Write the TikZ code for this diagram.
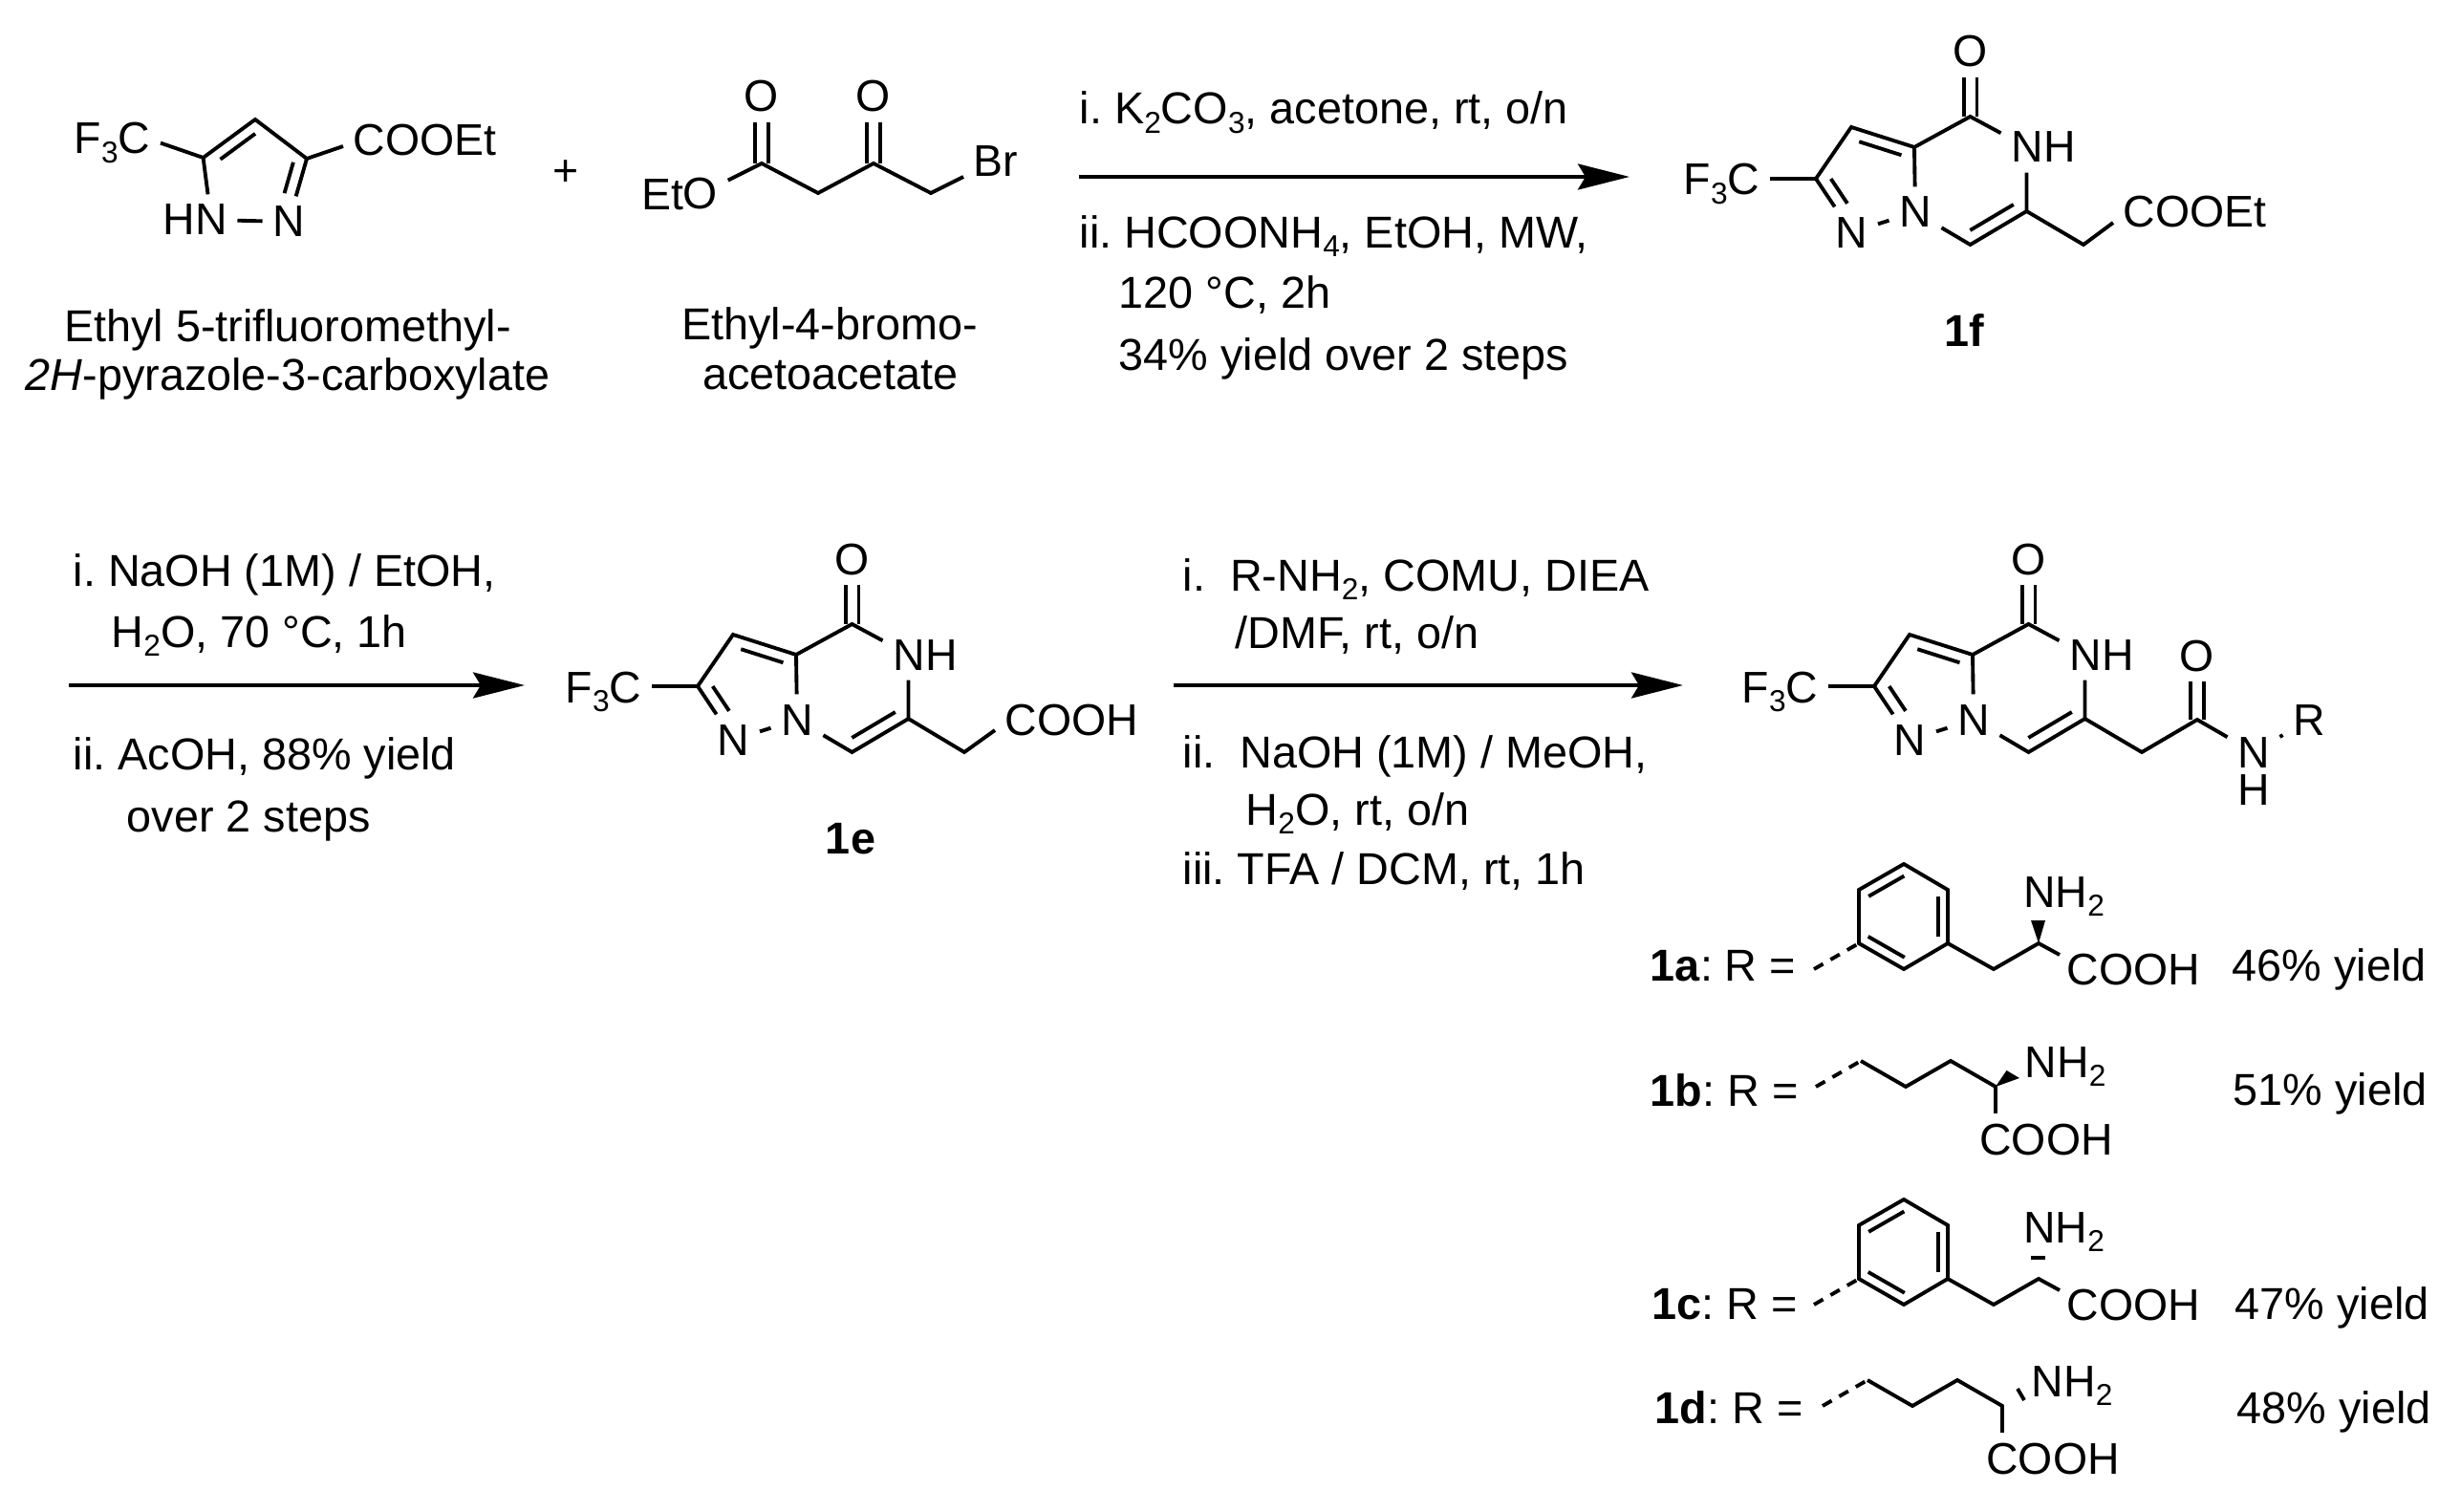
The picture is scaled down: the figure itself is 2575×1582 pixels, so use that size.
\documentclass[tikz,border=0pt]{standalone}
\usepackage{fontspec}
\setmainfont{Liberation Sans}
\frenchspacing
\usetikzlibrary{arrows.meta,calc}

\newcommand{\low}[1]{\raisebox{-0.2em}{\fontsize{9}{10}\selectfont #1}}
\newcommand{\innerbond}[5]{\draw[bond] ($(#1)!#4!(#2)!#3!90:(#2)$) -- ($(#1)!#5!(#2)!#3!-90:(#1)$);}

\tikzset{
  bond/.style={line width=1.1pt},
  dbond/.style={bond, double, double distance=0.1cm},
  dashbond/.style={bond, dash pattern=on 0.11cm off 0.09cm},
  rarrow/.style={-{Stealth[length=0.54cm, width=0.27cm, inset=0.08cm]}, line width=1.05pt},
  atom/.style={inner sep=0.1cm, font=\fontsize{13.2}{16}\selectfont},
  plain/.style={inner sep=0pt, font=\fontsize{13.2}{16}\selectfont},
  txt/.style={inner sep=0pt, anchor=base west, font=\fontsize{13.3}{16}\selectfont},
  ctxt/.style={txt, anchor=base}
}

% bicyclic core, drawn at the place it has in 1e
\newcommand{\pyrcore}{
  \coordinate (c2) at (730,718);
  \coordinate (c3) at (767,664);
  \coordinate (c3a) at (833,685);
  \coordinate (c4) at (891.5,653);
  \coordinate (c6) at (950.5,752);
  \coordinate (c7) at (891.5,787);
  \node[atom, anchor=base east] (cf3) at (682,735) {F\low{3}C};
  \node[atom, anchor=base] (o4) at (891.5,601) {O};
  \node[atom, anchor=base] (n5) at (951,701) {N};
  \node[plain, anchor=base west] (h5) at (968,701) {H};
  \node[atom, anchor=base] (n8) at (834,769) {N};
  \node[atom, anchor=base] (n1) at (767.5,790) {N};
  \draw[dbond] (c4) -- (o4);
  \draw[bond] (c2 -| cf3.east) -- (c2) -- (c3) -- (c3a) -- (c4) -- (n5);
  \draw[bond] (c2) -- (n1);
  \draw[bond] (c3a) -- (n8);
  \draw[bond] (n8) -- (c7) -- (c6) -- (c6 |- n5.south);
  \draw[bond] (n1) -- (n8);
  \innerbond{c2}{n1}{0.13cm}{0.13}{0.59}
  \innerbond{c3a}{c3}{0.12cm}{0.15}{0.82}
  \innerbond{c7}{c6}{0.13cm}{0.11}{0.88}
}

% phenyl side chain of 1a
\newcommand{\phside}{
  \coordinate (r0) at (1898,1014);
  \coordinate (r1) at (1945,987);
  \coordinate (r2) at (1945,931);
  \coordinate (r3) at (1992,904);
  \coordinate (r4) at (2038,931);
  \coordinate (r5) at (2038,987);
  \coordinate (r6) at (1992,1014);
  \coordinate (ch2) at (2086,1014);
  \coordinate (ch) at (2133,987);
  \coordinate (cend) at (2155,999);
  \node[plain, anchor=base west] (nh2) at (2116.5,949) {NH\low{2}};
  \node[plain, anchor=base west] (cooh) at (2162,1030) {COOH};
  \draw[dashbond] (r0) -- (r1);
  \draw[bond] (r1) -- (r2) -- (r3) -- (r4) -- (r5) -- (r6) -- cycle;
  \draw[bond] (r5) -- (ch2) -- (ch) -- (cend);
  \innerbond{r3}{r2}{0.11cm}{0.11}{0.9}
  \innerbond{r5}{r4}{0.1cm}{0.12}{0.88}
  \innerbond{r1}{r6}{0.11cm}{0.09}{0.9}
}

% open chain of 1b
\newcommand{\chainside}{
  \coordinate (z0) at (1900,1137);
  \coordinate (z1) at (1947,1110);
  \coordinate (z2) at (1994,1137);
  \coordinate (z3) at (2041,1110);
  \coordinate (z4) at (2088,1137);
  \node[plain, anchor=base west] (nh2) at (2118,1127) {NH\low{2}};
  \node[atom, anchor=base] (cooh) at (2141,1208) {COOH};
  \draw[dashbond] (z0) -- (z1);
  \draw[bond] (z1) -- (z2) -- (z3) -- (z4) -- (z4 |- cooh.north);
}

\begin{document}
\begin{tikzpicture}[x=0.01cm, y=-0.01cm]
  \useasboundingbox (0,0) rectangle (2575,1582);

  % Pyrazole
  \coordinate (pc5) at (212.6,165);
  \coordinate (pc4) at (267,125);
  \coordinate (pc3) at (321,166);
  \node[atom, anchor=base east] (pcf3) at (168,161) {F\low{3}C};
  \node[atom, anchor=base west] (pester) at (359,163) {COOEt};
  \node[atom, anchor=base] (pn1) at (221,246) {N};
  \node[plain, anchor=base east] (ph1) at (205,246) {H};
  \node[atom, anchor=base] (pn2) at (302,248) {N};
  \draw[bond] (pcf3.east) -- (pc5) -- (pc4) -- (pc3) -- ([yshift=-0.06cm]pester.west);
  \draw[bond] (pc5) -- (pn1);
  \draw[bond] (pc3) -- (pn2);
  \draw[bond] (pn1) -- (pn2);
  \innerbond{pn2}{pc3}{0.125cm}{0.4}{0.89}
  \innerbond{pc4}{pc5}{0.12cm}{0.13}{0.8}
  \node[ctxt] (pname1) at (301,357) {Ethyl 5-trifluoromethyl-};
  \node[ctxt] (pname2) at (301,408) {\textit{2H}-pyrazole-3-carboxylate};

  \node[atom] (plus) at (592,181) {+};

  % Bromo ester
  \coordinate (bc1) at (797,171);
  \coordinate (bc2) at (856,202);
  \coordinate (bc3) at (914,171);
  \coordinate (bc4) at (974,202);
  \node[atom, anchor=base] (bo1) at (797,117) {O};
  \node[atom, anchor=base] (bo3) at (914,117) {O};
  \node[atom] (bo) at (733,203) {O};
  \node[plain, anchor=base east] (bet) at (716,220) {Et};
  \node[atom, anchor=base west] (bbr) at (1008,185) {Br};
  \draw[dbond] (bc1) -- (bo1);
  \draw[dbond] (bc3) -- (bo3);
  \draw[bond] (bo) -- (bc1) -- (bc2) -- (bc3) -- (bc4) -- (bbr.base west);
  \node[ctxt] (bname1) at (868,355) {Ethyl-4-bromo-};
  \node[ctxt] (bname2) at (869,407) {acetoacetate};

  % First arrow
  \coordinate (a1s) at (1129,185);
  \coordinate (a1e) at (1705,185);
  \draw[rarrow] (a1s) -- (a1e);
  \node[txt] (t11) at (1129,130) {i. K\low{2}CO\low{3}, acetone, rt, o/n};
  \node[txt] (t12) at (1129,259) {ii. HCOONH\low{4}, EtOH, MW,};
  \node[txt] (t13) at (1170,323) {120 °C, 2h};
  \node[txt] (t14) at (1170,387) {34\% yield over 2 steps};

  % 1f
  \begin{scope}[shift={(1170,-531)}, name prefix=f-]
    \pyrcore
    \coordinate (ch2) at (1010,787);
    \node[atom, anchor=base west] (ester) at (1041,769) {COOEt};
    \draw[bond] (c6) -- (ch2) -- ([yshift=-0.11cm]ester.west);
  \end{scope}
  \node[ctxt] (lf) at (2055,363) {\textbf{1f}};

  % Second arrow
  \coordinate (a2s) at (72,717);
  \coordinate (a2e) at (549,717);
  \draw[rarrow] (a2s) -- (a2e);
  \node[txt] (t21) at (76,613) {i. NaOH (1M) / EtOH,};
  \node[txt] (t22) at (116,677) {H\low{2}O, 70 °C, 1h};
  \node[txt] (t23) at (76,805) {ii. AcOH, 88\% yield};
  \node[txt] (t24) at (132,870) {over 2 steps};

  % 1e
  \begin{scope}[name prefix=e-]
    \pyrcore
    \coordinate (ch2) at (1009,787);
    \node[atom, anchor=base west] (acid) at (1041,769) {COOH};
    \draw[bond] (c6) -- (ch2) -- ([yshift=-0.11cm]acid.west);
  \end{scope}
  \node[ctxt] (le) at (890,893) {\textbf{1e}};

  % Third arrow
  \coordinate (a3s) at (1228,717);
  \coordinate (a3e) at (1761,717);
  \draw[rarrow] (a3s) -- (a3e);
  \node[txt] (t31) at (1237,618) {i.\ \ R-NH\low{2}, COMU, DIEA};
  \node[txt] (t32) at (1292,678) {/DMF, rt, o/n};
  \node[txt] (t33) at (1237,803) {ii.\ \ NaOH (1M) / MeOH,};
  \node[txt] (t34) at (1303,863) {H\low{2}O, rt, o/n};
  \node[txt] (t35) at (1237,925) {iii. TFA / DCM, rt, 1h};

  % Products
  \begin{scope}[shift={(1231,0)}, name prefix=g-]
    \pyrcore
  \end{scope}
  \coordinate (gch2) at (2241,787);
  \coordinate (gc8) at (2299,753);
  \node[atom, anchor=base] (go8) at (2299,702) {O};
  \node[atom, anchor=base, inner ysep=0.02cm] (gn9) at (2358,803) {N};
  \node[plain, anchor=base] (gh9) at (2358,842) {H};
  \node[atom, anchor=base] (gr) at (2416,769) {R};
  \draw[dbond] (gc8) -- (go8);
  \draw[bond] (g-c6) -- (gch2) -- (gc8) -- (gn9);
  \draw[bond] (gn9) -- (gr);

  % 1a
  \begin{scope}[name prefix=a-]
    \phside
    \coordinate (wl) at (2125,963);
    \coordinate (wr) at (2140,963);
    \fill (ch) -- (wl) -- (wr) -- cycle;
  \end{scope}
  \node[txt] (la) at (1726,1026) {\textbf{1a}: R =};
  \node[txt] (ya) at (2335,1026) {46\% yield};

  % 1b
  \begin{scope}[name prefix=b-]
    \chainside
    \coordinate (wl) at (2099.5,1120);
    \coordinate (wr) at (2113,1128);
    \fill (z4) -- (wl) -- (wr) -- cycle;
  \end{scope}
  \node[txt] (lb) at (1726,1157) {\textbf{1b}: R =};
  \node[txt] (yb) at (2336,1156) {51\% yield};

  % 1c
  \begin{scope}[shift={(0,351)}, name prefix=c-]
    \phside
    \coordinate (hl) at (2125,965);
    \coordinate (hr) at (2140,965);
    \draw[bond] (hl) -- (hr);
  \end{scope}
  \node[txt] (lc) at (1728,1380) {\textbf{1c}: R =};
  \node[txt] (yc) at (2338,1380) {47\% yield};

  % 1d
  \begin{scope}[shift={(7,334)}, name prefix=d-]
    \chainside
    \coordinate (hl) at (2104,1119);
    \coordinate (hr) at (2111,1131);
    \draw[bond] (hl) -- (hr);
  \end{scope}
  \node[txt] (ld) at (1731,1489) {\textbf{1d}: R =};
  \node[txt] (yd) at (2340,1489) {48\% yield};

\end{tikzpicture}
\end{document}
